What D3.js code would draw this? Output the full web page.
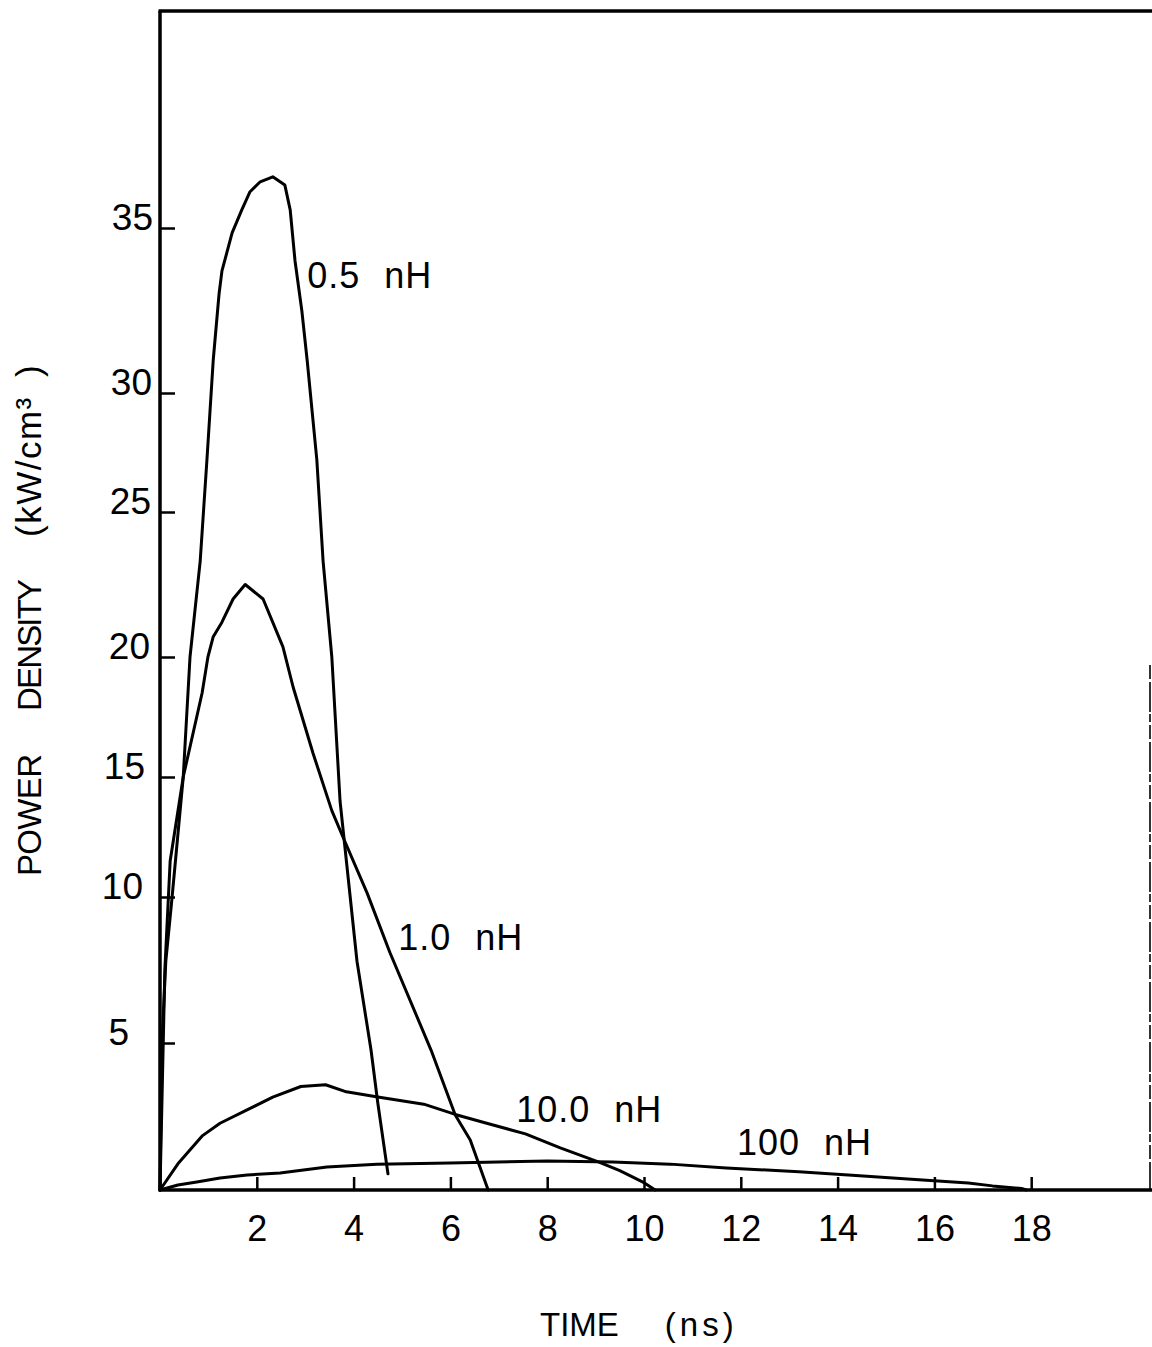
<!DOCTYPE html>
<html>
<head>
<meta charset="utf-8">
<script src="https://cdn.jsdelivr.net/npm/d3@7/dist/d3.min.js"></script>
<style>
  html, body { margin: 0; padding: 0; background: #fff; }
  svg { display: block; }
  text { font-family: "Liberation Sans", Arial, Helvetica, sans-serif; fill: #000; }
</style>
</head>
<body>
<svg id="chart" width="1152" height="1347"></svg>
<script>
// ---------------- data ----------------
const xTicks = [2, 4, 6, 8, 10, 12, 14, 16, 18];
const yTicks = [5, 10, 15, 20, 25, 30, 35];

const seriesNames = ["0.5 nH", "1.0 nH", "10.0 nH", "100 nH"];

const t05 = [0, 0.04, 0.12, 0.25, 0.48, 0.62, 0.83, 0.97, 1.10, 1.22, 1.28, 1.49, 1.69, 1.86, 2.07, 2.33, 2.58, 2.69, 2.79, 2.93, 3.04, 3.24, 3.37, 3.55, 3.72, 4.07, 4.36, 4.50, 4.61, 4.71];
const p05 = [0, 5.0, 7.8, 10.0, 15.0, 20.0, 23.3, 27.2, 31.0, 33.0, 33.7, 34.85, 35.55, 36.1, 36.4, 36.55, 36.3, 35.55, 34.0, 32.5, 31.0, 27.2, 23.3, 20.0, 14.0, 7.8, 4.76, 2.96, 1.7, 0.55];

const t10 = [0, 0.10, 0.21, 0.48, 0.87, 0.99, 1.10, 1.28, 1.51, 1.76, 2.13, 2.54, 2.75, 3.16, 3.55, 3.78, 4.28, 4.75, 5.60, 6.10, 6.41, 6.78];
const p10 = [0, 7.5, 11.5, 15.0, 18.5, 20.0, 20.7, 21.2, 22.0, 22.5, 22.0, 20.35, 18.75, 16.0, 13.6, 12.5, 10.16, 8.1, 4.76, 2.55, 1.7, 0];

const t100 = [0, 0.37, 0.88, 1.24, 1.82, 2.33, 2.91, 3.42, 3.85, 4.50, 5.45, 6.10, 6.75, 7.55, 8.27, 9.07, 9.50, 10.01, 10.23];
const p100 = [0, 0.89, 1.85, 2.27, 2.74, 3.16, 3.52, 3.58, 3.34, 3.16, 2.92, 2.57, 2.27, 1.91, 1.43, 0.95, 0.66, 0.24, 0];

const t1000 = [0, 0.37, 0.76, 1.24, 1.80, 2.48, 3.45, 4.48, 5.99, 8.0, 9.36, 10.54, 11.7, 13.2, 14.3, 15.6, 16.7, 17.2, 17.8, 17.9];
const p1000 = [0, 0.17, 0.27, 0.41, 0.51, 0.58, 0.78, 0.88, 0.92, 0.99, 0.95, 0.88, 0.75, 0.62, 0.50, 0.36, 0.24, 0.14, 0.05, 0];

const seriesT = [t05, t10, t100, t1000];
const seriesP = [p05, p10, p100, p1000];

// label anchor points in data units (time ns, power kW/cm3)
const labelT = [3.04, 4.92, 7.36, 11.92];
const labelP = [33.18, 8.18, 2.31, 1.19];

(function () {
// ---------------- layout ----------------
const svg = d3.select("#chart");
const L = 160, B = 1190, T = 11, R = 1152;
const FONT = '"Liberation Sans", Arial, sans-serif';

const x = d3.scaleLinear().domain([0, 20]).range([L, L + 20 * 48.4]);
// the scanned axis has uneven tick spacing; follow it with a polylinear scale
const y = d3.scaleLinear()
  .domain([0, 5, 10, 15, 20, 25, 30, 35])
  .range([B, 1043, 897, 777, 657, 512, 393, 228]);

// frame
const frame = svg.append("g").attr("stroke", "#000").attr("fill", "none");
frame.append("line").attr("x1", L).attr("y1", T).attr("x2", L).attr("y2", B).attr("stroke-width", 3.5);
frame.append("line").attr("x1", L - 1.5).attr("y1", T).attr("x2", R).attr("y2", T).attr("stroke-width", 3.5);
frame.append("line").attr("x1", L - 1.5).attr("y1", B).attr("x2", R).attr("y2", B).attr("stroke-width", 3.5);
frame.append("line").attr("x1", 1150).attr("y1", 665).attr("x2", 1150).attr("y2", B)
  .attr("stroke-width", 1.6).attr("stroke-dasharray", "14 3 30 2 8 3");

// axes
const yAxis = d3.axisLeft(y).tickValues(yTicks).tickSizeInner(-15).tickSizeOuter(0).tickPadding(7)
  .tickFormat(d3.format("d"));
const gy = svg.append("g").attr("transform", `translate(${L},0)`).call(yAxis);
gy.select(".domain").remove();
gy.selectAll(".tick line").attr("stroke", "#000").attr("stroke-width", 2.5);
const yLabelShift = { 35: 0, 30: -1, 25: -2, 20: -3, 15: -8, 10: -10, 5: -24 };
gy.selectAll(".tick text").attr("dy", "0.04em").attr("fill", "#000")
  .attr("dx", d => yLabelShift[d] || 0)
  .style("font-size", "37px").style("font-family", FONT);

const xAxis = d3.axisBottom(x).tickValues(xTicks).tickSizeInner(-13).tickSizeOuter(0).tickPadding(25)
  .tickFormat(d3.format("d"));
const gx = svg.append("g").attr("transform", `translate(0,${B})`).call(xAxis);
gx.select(".domain").remove();
gx.selectAll(".tick line").attr("stroke", "#000").attr("stroke-width", 2.5);
gx.selectAll(".tick text").attr("fill", "#000")
  .style("font-size", "36px").style("font-family", FONT);

// curves
const line = d3.line().x(d => x(d[0])).y(d => y(d[1])).curve(d3.curveLinear);
seriesT.forEach((ts, i) => {
  const pts = ts.map((t, j) => [t, seriesP[i][j]]);
  svg.append("path").datum(pts).attr("d", line)
    .attr("fill", "none").attr("stroke", "#000").attr("stroke-width", 3)
    .attr("stroke-linejoin", "round").attr("stroke-linecap", "round");
});

// series labels
seriesNames.forEach((name, i) => {
  const parts = name.split(" ");
  const tx = svg.append("text").attr("x", x(labelT[i])).attr("y", y(labelP[i]))
    .style("font-size", "36px").style("letter-spacing", "1px");
  tx.append("tspan").text(parts[0]);
  tx.append("tspan").attr("dx", 24).text(parts[1]);
});

// axis titles
const xt = svg.append("text").attr("x", 540).attr("y", 1336).style("font-size", "33px");
xt.append("tspan").text("TIME");
xt.append("tspan").attr("dx", 46).style("letter-spacing", "4px").text("(ns)");

// y title: pieces placed along the rotated axis
const yTitle = svg.append("g").attr("transform", "translate(41,0) rotate(-90)");
yTitle.append("text").attr("x", -876).attr("textLength", 122).attr("lengthAdjust", "spacing")
  .style("font-size", "33px").text("POWER");
yTitle.append("text").attr("x", -711).attr("textLength", 132).attr("lengthAdjust", "spacing")
  .style("font-size", "33px").text("DENSITY");
yTitle.append("text").attr("x", -537).style("font-size", "35px").style("letter-spacing", "1.5px")
  .text("(kW/cm³");
yTitle.append("text").attr("x", -377).style("font-size", "35px").text(")");
})();
</script>
</body>
</html>
